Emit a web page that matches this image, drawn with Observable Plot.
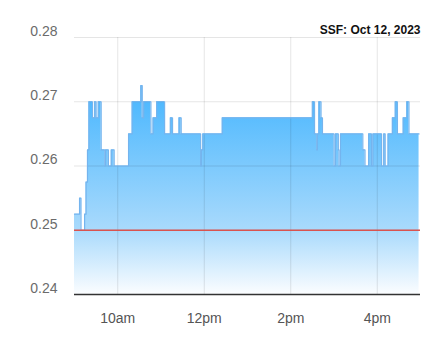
<!DOCTYPE html>
<html>
<head>
<meta charset="utf-8">
<script src="https://cdn.jsdelivr.net/npm/d3@7"></script>
<script src="https://cdn.jsdelivr.net/npm/@observablehq/plot@0.6"></script>
<style>
  html, body { margin: 0; padding: 0; background: #fff; }
  svg { display: block; font-family: "Liberation Sans", Arial, sans-serif; }
</style>
</head>
<body>
<div id="chart"></div>
<script>
// ---- data ----
const title = "SSF: Oct 12, 2023";
const tradeDate = [2023, 9, 12];
const times = ["09:00","09:07","09:09","09:14","09:16","09:18","09:20","09:25","09:28","09:30","09:33","09:37","09:42","09:43","09:47","09:51","09:55","10:15","10:20","10:32","10:34","10:36","10:46","10:49","10:54","11:05","11:13","11:16","11:25","11:28","11:55","11:56","11:58","12:25","14:30","14:33","14:36","14:37","14:39","14:42","14:44","15:00","15:02","15:06","15:07","15:09","15:40","15:43","15:48","15:52","15:54","16:06","16:09","16:11","16:15","16:21","16:25","16:28","16:36","16:41","16:44","16:58"];
const prices = [0.2525,0.255,0.25,0.2525,0.2575,0.2625,0.27,0.2675,0.27,0.2675,0.27,0.2625,0.26,0.2625,0.26,0.2625,0.26,0.265,0.27,0.2725,0.2675,0.27,0.265,0.2675,0.27,0.265,0.2675,0.265,0.2675,0.265,0.26,0.2625,0.265,0.2675,0.27,0.265,0.2625,0.265,0.27,0.2675,0.265,0.26,0.265,0.2625,0.26,0.265,0.2625,0.26,0.265,0.26,0.265,0.26,0.265,0.26,0.265,0.2675,0.27,0.265,0.2675,0.27,0.265,0.265];
const previousClose = 0.25;
const yTicks = [0.24, 0.25, 0.26, 0.27, 0.28];
const xTickHours = [10, 12, 14, 16];
const sessionHours = [9, 17];

// ---- build ----
const mk = (h, m) => new Date(tradeDate[0], tradeDate[1], tradeDate[2], h, m);
const data = times.map((t, i) => {
  const [h, m] = t.split(":").map(Number);
  return {t: mk(h, m), p: prices[i]};
});
const yMin = yTicks[0], yMax = yTicks[yTicks.length - 1];
const xTicks = xTickHours.map(h => mk(h, 0));
const fmt = d => d3.timeFormat("%-I%p")(d).toLowerCase();

const gradient = (index, scales, values, dims) => {
  const defs = d3.create("svg:defs");
  const g = defs.append("linearGradient")
    .attr("id", "areaGrad")
    .attr("gradientUnits", "userSpaceOnUse")
    .attr("x1", 0).attr("x2", 0)
    .attr("y1", dims.marginTop).attr("y2", dims.height - dims.marginBottom);
  [[0, "#3aafff"], [0.25, "#50b9fe"], [0.75, "#a9dafc"], [1, "#fbfdff"]].forEach(([o, c]) =>
    g.append("stop").attr("offset", o).attr("stop-color", c));
  return defs.node();
};

const chart = Plot.plot({
  width: 435,
  height: 357,
  marginLeft: 74,
  marginRight: 15,
  marginTop: 37,
  marginBottom: 63,
  style: {fontFamily: "Liberation Sans, Arial, sans-serif", background: "#fff"},
  x: {type: "time", domain: [mk(sessionHours[0], 0), mk(sessionHours[1], 0)]},
  y: {domain: [yMin, yMax]},
  marks: [
    gradient,
    Plot.areaY(data, {x: "t", y1: () => yMin, y2: "p", curve: "step-after", fill: "url(#areaGrad)"}),
    Plot.ruleY(yTicks.slice(1), {stroke: "#000", strokeOpacity: 0.1}),
    Plot.ruleX(xTicks, {stroke: "#000", strokeOpacity: 0.1}),
    Plot.lineY(data, {x: "t", y: "p", curve: "step-after", stroke: "#74b4ee", strokeWidth: 1.2}),
    Plot.ruleY([previousClose], {stroke: "#d9534f", strokeWidth: 1.5}),
    Plot.ruleY([yMin], {stroke: "#333", strokeWidth: 1.5}),
    Plot.axisY({ticks: yTicks, tickSize: 0, tickPadding: 17, dy: -6, fontSize: 14, fill: "#6b6b6b", tickFormat: d3.format(".2f"), label: null}),
    Plot.axisX({ticks: xTicks, tickSize: 0, tickPadding: 19, fontSize: 14, fill: "#555", tickFormat: fmt, label: null}),
    Plot.text([title], {frameAnchor: "top-right", dy: -4, lineAnchor: "bottom", fontSize: 12, fontWeight: "bold", fill: "#111", text: d => d})
  ]
});
document.getElementById("chart").appendChild(chart);
</script>
</body>
</html>
